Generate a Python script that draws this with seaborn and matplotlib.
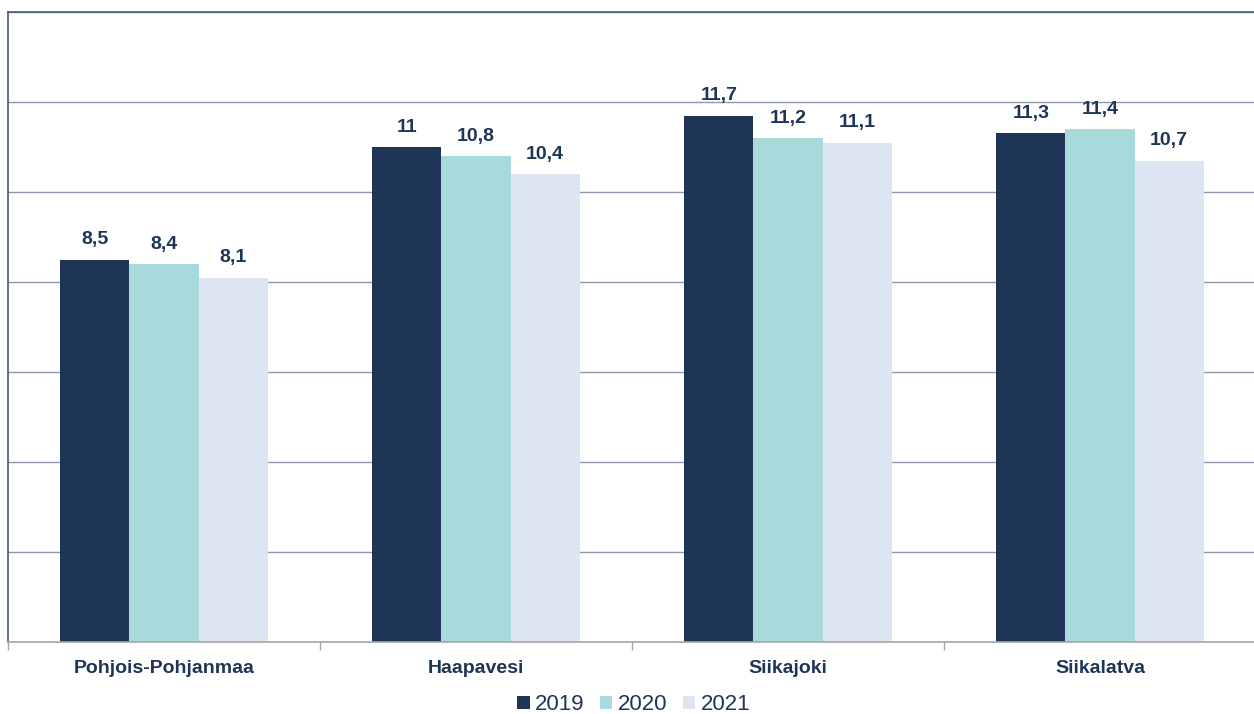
import matplotlib.pyplot as plt
import pandas as pd
import seaborn as sns
from matplotlib.ticker import FixedLocator, MultipleLocator

regions = ["Pohjois-Pohjanmaa", "Haapavesi", "Siikajoki", "Siikalatva"]
years = ["2019", "2020", "2021"]
values_2019 = [8.5, 11.0, 11.7, 11.3]
values_2020 = [8.4, 10.8, 11.2, 11.4]
values_2021 = [8.1, 10.4, 11.1, 10.7]

colors = ["#1F3557", "#A8DADB", "#DCE5F1"]
text_color = "#1F3557"


def fmt(v: float) -> str:
    s = f"{v:.1f}".replace(".", ",")
    return s[:-2] if s.endswith(",0") else s


def main() -> None:
    frame = pd.DataFrame(
        {
            "region": regions * 3,
            "year": [y for y in years for _ in regions],
            "value": values_2019 + values_2020 + values_2021,
        }
    )

    sns.set_theme(style="white")
    plt.rcParams["font.family"] = ["Liberation Sans", "DejaVu Sans"]

    fig = plt.figure(figsize=(12.54, 7.14), dpi=100)
    ax = fig.add_axes([8 / 1254, 72 / 714, 1248 / 1254, 630 / 714])
    sns.barplot(
        data=frame,
        x="region",
        y="value",
        hue="year",
        palette=colors,
        width=0.665,
        saturation=1,
        linewidth=0,
        ax=ax,
    )

    for container in ax.containers:
        ax.bar_label(
            container,
            labels=[fmt(v) for v in container.datavalues],
            padding=8,
            fontsize=14,
            fontweight="bold",
            color=text_color,
        )

    ax.set_xlim(-0.5, 3.5)
    ax.set_ylim(0, 14)
    ax.yaxis.set_major_locator(MultipleLocator(2))
    ax.set_yticklabels([])
    ax.tick_params(axis="y", length=0)
    ax.grid(axis="y", color="#8D98AE", linewidth=1)
    ax.set_axisbelow(True)

    ax.set_xlabel("")
    ax.set_ylabel("")
    ax.xaxis.set_minor_locator(FixedLocator([-0.5, 0.5, 1.5, 2.5]))
    ax.tick_params(axis="x", which="major", length=0, pad=13, labelsize=14, labelcolor=text_color)
    ax.tick_params(axis="x", which="minor", bottom=True, length=6, width=1, color="#A6A6A6", direction="out")
    for label in ax.get_xticklabels():
        label.set_fontweight("bold")

    ax.spines["right"].set_visible(False)
    ax.spines["bottom"].set_color("#A6A6A6")
    ax.spines["left"].set_color("#44587A")
    ax.spines["top"].set_color("#44587A")
    for side in ["left", "top", "bottom"]:
        ax.spines[side].set_linewidth(1.2)

    ax.legend(
        loc="center",
        bbox_to_anchor=(0.5015, -0.1),
        ncols=3,
        frameon=False,
        fontsize=16,
        handlelength=0.55,
        handleheight=0.55,
        handletextpad=0.25,
        columnspacing=0.7,
        labelcolor=text_color,
    )

    fig.savefig("out.png", dpi=100)
    plt.close(fig)


if __name__ == "__main__":
    main()
